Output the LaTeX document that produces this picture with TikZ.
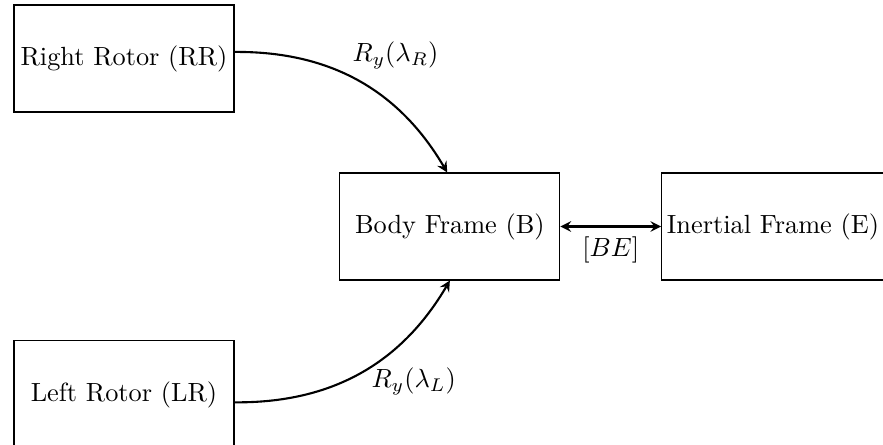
\documentclass[tikz,border=0pt]{standalone}
\begin{document}
\begin{tikzpicture}[x=1cm,y=1cm,>=stealth]
\useasboundingbox (0,0) rectangle (11.80,5.946);
\tikzset{frame/.style={draw,thin,align=center,inner sep=2pt,minimum width=2.94cm,minimum height=1.43cm}}
\node[frame] (rr) at (1.657,5.164) {Right Rotor (RR)};
\node[frame] (lr) at (1.657,0.675) {Left Rotor (LR)};
\node[frame] (b) at (6.012,2.919) {Body Frame (B)};
\node[frame] (e) at (10.33,2.919) {Inertial Frame (E)};
\node (lblr) at (5.284,5.21) {$R_y(\lambda_R)$};
\node (lbll) at (5.53,0.846) {$R_y(\lambda_L)$};
\draw[->,thick] ([yshift=2.5pt]rr.east) to[bend left] ([xshift=-1pt]b.north);
\draw[->,thick] ([yshift=-3pt]lr.east) to[bend right] (b.south);
\draw[<->,thick] (b.east) -- node[below] {$[BE]$} (e.west);
\end{tikzpicture}
\end{document}
